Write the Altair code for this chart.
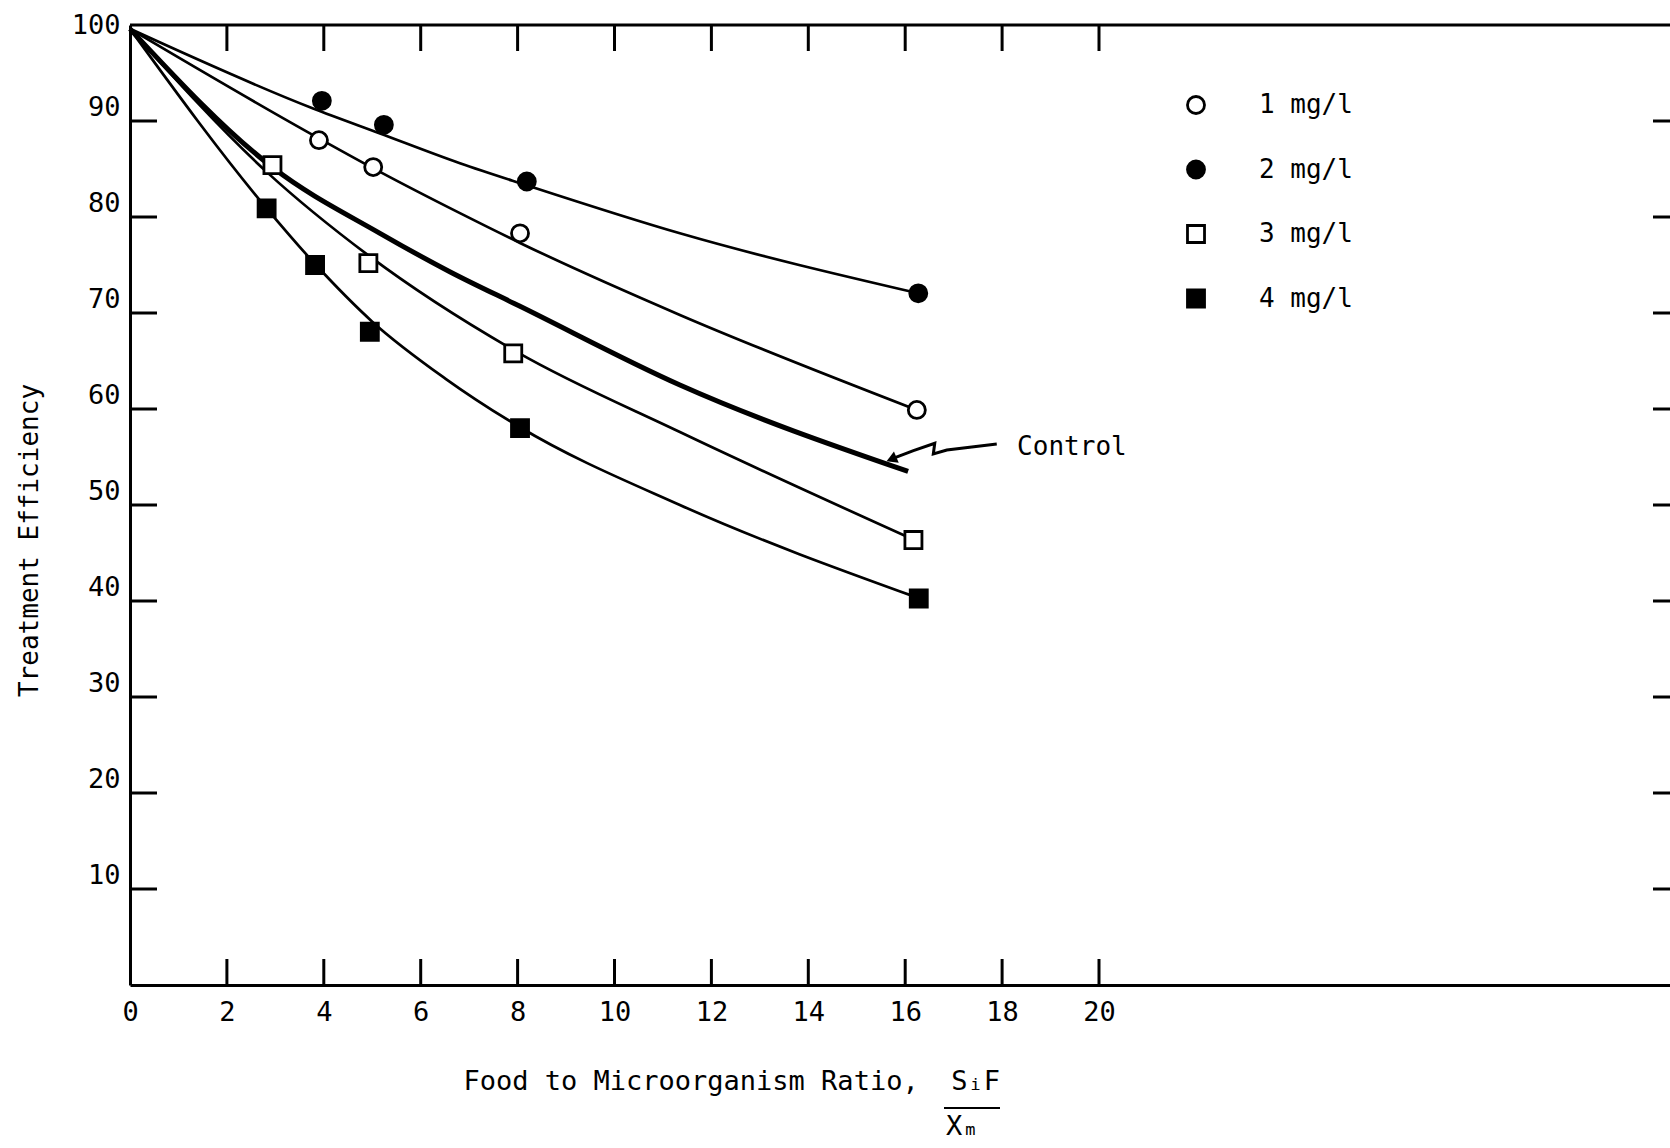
import altair as alt
import pandas as pd

# ---------------- data ----------------
series_names = ["1 mg/l", "2 mg/l", "3 mg/l", "4 mg/l"]

# measured points
p1_x = [3.90, 5.02, 8.05, 16.24]
p1_y = [88.0, 85.2, 78.3, 59.9]
p2_x = [3.96, 5.24, 8.19, 16.27]
p2_y = [92.1, 89.6, 83.7, 72.05]
p3_x = [2.94, 4.92, 7.91, 16.17]
p3_y = [85.4, 75.2, 65.8, 46.35]
p4_x = [2.82, 3.82, 4.95, 8.05, 16.28]
p4_y = [80.9, 75.0, 68.05, 58.0, 40.26]

# fitted curves
c1_x = [0, 3.65, 5.16, 6.81, 8.05, 11.35, 16.24]
c1_y = [99.6, 88.9, 84.7, 80.4, 77.3, 69.8, 59.9]
c2_x = [0, 3.78, 5.16, 6.81, 8.19, 11.35, 16.27]
c2_y = [99.6, 91.3, 88.7, 85.6, 83.3, 78.3, 72.05]
c3_x = [0, 2.82, 4.92, 8.0, 11.35, 16.17]
c3_y = [99.6, 84.7, 76.0, 65.9, 57.6, 46.4]
c4_x = [0, 2.82, 3.82, 5.0, 6.5, 8.05, 11.35, 16.28]
c4_y = [99.6, 80.9, 75.1, 69.1, 63.2, 58.1, 50.0, 40.3]
ctrl_x = [0, 2.96, 5.16, 6.6, 8.05, 11.35, 16.06]
ctrl_y = [99.6, 85.1, 78.3, 74.3, 70.7, 62.5, 53.5]

x_tick_values = [2, 4, 6, 8, 10, 12, 14, 16, 18, 20]
x_label_values = [0, 2, 4, 6, 8, 10, 12, 14, 16, 18, 20]
y_tick_values = [10, 20, 30, 40, 50, 60, 70, 80, 90]
y_label_values = [10, 20, 30, 40, 50, 60, 70, 80, 90, 100]

# "Control" annotation (squiggly arrow) in data units
arrow_x = [17.89, 16.86, 16.58, 16.61, 16.17, 15.75]
arrow_y = [56.35, 55.73, 55.31, 56.43, 55.66, 54.85]
control_text = "Control"

# ---------------- layout ----------------
W, H = 1540, 960
PAD_L, PAD_T = 130, 25
XMAX = W / 48.45
FONT = "DejaVu Sans Mono"

xs = alt.Scale(domain=[0, XMAX], nice=False, zero=False)
ys = alt.Scale(domain=[0, 100], nice=False, zero=False)

x_axis = alt.Axis(values=x_label_values, ticks=False, grid=False, domain=True,
                  domainColor="black", domainWidth=3, labelFont=FONT,
                  labelFontSize=27, labelColor="black", labelPadding=14,
                  labelFlush=False,
                  title="Food to Microorganism Ratio,\u00a0\u00a0S\u1d62F",
                  titleFont=FONT, titleFontSize=27, titleFontWeight="normal",
                  titleColor="black", titleAnchor="start", titleAlign="left",
                  titleX=333, titleY=96, titleBaseline="middle")
y_axis = alt.Axis(values=y_label_values, ticks=False, grid=False, domain=True,
                  domainColor="black", domainWidth=3, labelFont=FONT,
                  labelFontSize=27, labelColor="black", labelPadding=10,
                  labelFlush=False,
                  labelOffset={"condition": {"test": "datum.value == 100", "value": 0},
                               "value": -14},
                  title="Treatment Efficiency", titleFont=FONT, titleFontSize=26,
                  titleFontWeight="normal", titleColor="black", titleAngle=270,
                  titleX=-101, titleY=515, titleAlign="center",
                  titleBaseline="middle")


def X(field):
    return alt.X(field, scale=xs, axis=x_axis)


def Y(field):
    return alt.Y(field, scale=ys, axis=y_axis)


def curve_df(name, xv, yv):
    return pd.DataFrame({"series": name, "x": xv, "y": yv})


curves = pd.concat([
    curve_df("1 mg/l", c1_x, c1_y),
    curve_df("2 mg/l", c2_x, c2_y),
    curve_df("3 mg/l", c3_x, c3_y),
    curve_df("4 mg/l", c4_x, c4_y),
])
control = curve_df("Control", ctrl_x, ctrl_y)
points = pd.concat([
    curve_df("1 mg/l", p1_x, p1_y),
    curve_df("2 mg/l", p2_x, p2_y),
    curve_df("3 mg/l", p3_x, p3_y),
    curve_df("4 mg/l", p4_x, p4_y),
])

base_curves = alt.Chart(curves).mark_line(
    color="black", strokeWidth=2.7, interpolate="monotone"
).encode(x=X("x:Q"), y=Y("y:Q"), detail="series:N")

control_line = alt.Chart(control).mark_line(
    color="black", strokeWidth=5, interpolate="monotone"
).encode(x=X("x:Q"), y=Y("y:Q"))

legend = alt.Legend(orient="none", legendX=1053, legendY=67, title=None,
                    labelFont=FONT, labelFontSize=26, labelColor="black",
                    symbolSize=290, symbolStrokeWidth=2.8,
                    rowPadding=34.5, labelOffset=50, padding=0)

pts = alt.Chart(points).mark_point(
    filled=False, strokeWidth=2.8, size=290, opacity=1
).encode(
    x=X("x:Q"), y=Y("y:Q"),
    shape=alt.Shape("series:N", scale=alt.Scale(
        domain=series_names, range=["circle", "circle", "square", "square"]),
        legend=legend),
    fill=alt.Fill("series:N", scale=alt.Scale(
        domain=series_names, range=["white", "black", "white", "black"]),
        legend=legend),
    stroke=alt.Stroke("series:N", scale=alt.Scale(
        domain=series_names, range=["black", "black", "black", "black"]),
        legend=legend),
)

xt = pd.DataFrame({"v": x_tick_values})
yt = pd.DataFrame({"v": y_tick_values})

top_ticks = alt.Chart(xt).mark_rule(color="black", strokeWidth=3).encode(
    x=X("v:Q"), y=alt.value(0), y2=alt.value(26))
bottom_ticks = alt.Chart(xt).mark_rule(color="black", strokeWidth=3).encode(
    x=X("v:Q"), y=alt.value(H - 26), y2=alt.value(H))
left_ticks = alt.Chart(yt).mark_rule(color="black", strokeWidth=3).encode(
    y=Y("v:Q"), x=alt.value(0), x2=alt.value(27))
right_ticks = alt.Chart(yt).mark_rule(color="black", strokeWidth=3).encode(
    y=Y("v:Q"), x=alt.value(W - 17), x2=alt.value(W))

one = pd.DataFrame({"k": [0]})
top_line = alt.Chart(one).mark_rule(color="black", strokeWidth=3).encode(
    x=alt.value(0), x2=alt.value(W), y=alt.value(0))

arrow_df = pd.DataFrame({"x": arrow_x, "y": arrow_y, "o": list(range(len(arrow_x)))})
arrow = alt.Chart(arrow_df).mark_line(color="black", strokeWidth=3).encode(
    x=X("x:Q"), y=Y("y:Q"), order="o:Q")
head_df = pd.DataFrame({"x": [arrow_x[-1]], "y": [arrow_y[-1]]})
arrow_head = alt.Chart(head_df).mark_point(
    shape="triangle", filled=True, color="black", size=150, angle=247, opacity=1
).encode(x=X("x:Q"), y=Y("y:Q"))

ctext_df = pd.DataFrame({"x": [arrow_x[0] + 0.42], "y": [arrow_y[0] - 0.35], "t": [control_text]})
ctext = alt.Chart(ctext_df).mark_text(
    align="left", baseline="middle", font=FONT, fontSize=26, color="black"
).encode(x=X("x:Q"), y=Y("y:Q"), text="t:N")

# denominator of the ratio in the x title
den = alt.Chart(pd.DataFrame({"t": ["X\u2098"]})).mark_text(
    align="left", baseline="middle", font=FONT, fontSize=27, color="black"
).encode(x=alt.value(816), y=alt.value(1127 - PAD_T), text="t:N")
bar = alt.Chart(one).mark_rule(color="black", strokeWidth=2).encode(
    x=alt.value(814), x2=alt.value(870), y=alt.value(1108 - PAD_T))

chart = alt.layer(
    base_curves, control_line, pts, top_ticks, bottom_ticks, left_ticks,
    right_ticks, top_line, arrow, arrow_head, ctext, den, bar
).properties(
    width=W, height=H,
    padding={"left": PAD_L, "top": PAD_T, "right": 0, "bottom": 1148 - PAD_T - H},
    autosize=alt.AutoSizeParams(type="none"),
    background="white",
).configure_view(strokeWidth=0)

chart.save("out.html", embed_options={"renderer": "svg", "actions": False})
